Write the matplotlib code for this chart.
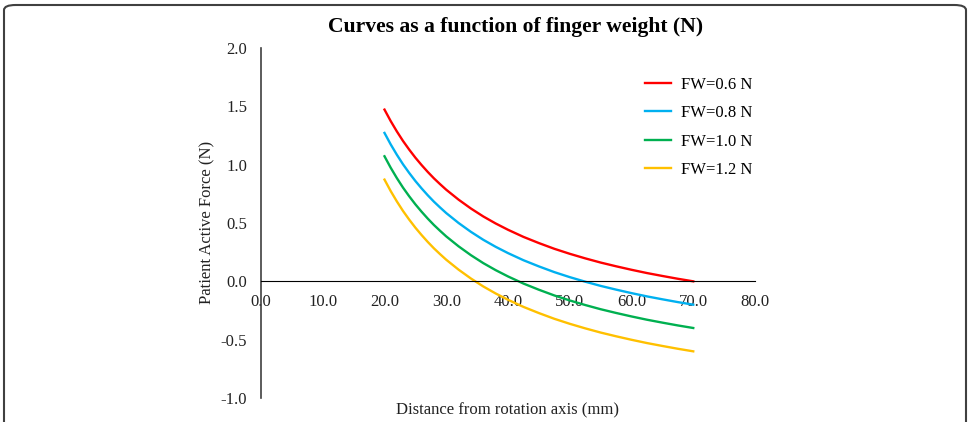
import matplotlib
matplotlib.use('Agg')
import matplotlib.pyplot as plt
from matplotlib.patches import FancyBboxPatch

plt.rcParams['font.family'] = ['Liberation Serif', 'DejaVu Serif']

# distance from rotation axis (mm)
distance = [20, 21, 22, 23, 24, 25, 26, 27, 28, 29, 30, 32, 34, 36, 38, 40,
            42.5, 45, 47.5, 50, 52.5, 55, 57.5, 60, 62.5, 65, 67.5, 70]

# patient active force (N)
fw_06 = [1.472, 1.374, 1.285, 1.203, 1.129, 1.060, 0.997, 0.938, 0.883, 0.833,
         0.785, 0.700, 0.624, 0.556, 0.496, 0.442, 0.381, 0.328, 0.279, 0.236,
         0.197, 0.161, 0.129, 0.099, 0.071, 0.046, 0.022, 0.000]
fw_08 = [1.272, 1.174, 1.085, 1.003, 0.929, 0.860, 0.797, 0.738, 0.683, 0.633,
         0.585, 0.500, 0.424, 0.356, 0.296, 0.242, 0.181, 0.128, 0.079, 0.036,
         -0.003, -0.039, -0.071, -0.101, -0.129, -0.154, -0.178, -0.200]
fw_10 = [1.072, 0.974, 0.885, 0.803, 0.729, 0.660, 0.597, 0.538, 0.483, 0.433,
         0.385, 0.300, 0.224, 0.156, 0.096, 0.042, -0.019, -0.072, -0.121, -0.164,
         -0.203, -0.239, -0.271, -0.301, -0.329, -0.354, -0.378, -0.400]
fw_12 = [0.872, 0.774, 0.685, 0.603, 0.529, 0.460, 0.397, 0.338, 0.283, 0.233,
         0.185, 0.100, 0.024, -0.044, -0.104, -0.158, -0.219, -0.272, -0.321, -0.364,
         -0.403, -0.439, -0.471, -0.501, -0.529, -0.554, -0.578, -0.600]

labels = ['FW=0.6 N', 'FW=0.8 N', 'FW=1.0 N', 'FW=1.2 N']
colors = ['#FF0000', '#00B0F0', '#00B050', '#FFC000']

W, H = 971, 422
fig = plt.figure(figsize=(W / 100, H / 100), dpi=100)

# rounded frame around the chart
frame = FancyBboxPatch((4 / W, -20 / H), 962 / W, 437 / H,
                       boxstyle='round,pad=0,rounding_size=0.012',
                       transform=fig.transFigure, fill=False,
                       edgecolor='#404040', linewidth=1.5)
fig.patches.append(frame)

ax = fig.add_axes([261 / W, (H - 398) / H, (755 - 261) / W, (398 - 48) / H])

for ys, lab, c in zip([fw_06, fw_08, fw_10, fw_12], labels, colors):
    ax.plot(distance, ys, color=c, linewidth=1.7, label=lab,
            solid_joinstyle='round')

ax.set_xlim(0, 80)
ax.set_ylim(-1.0, 2.0)
ax.set_xticks(range(0, 81, 10))
ax.set_xticklabels([f'{v:.1f}' for v in range(0, 81, 10)])
ax.set_yticks([-1.0, -0.5, 0.0, 0.5, 1.0, 1.5, 2.0])
ax.set_yticklabels([f'{v:.1f}' for v in [-1.0, -0.5, 0.0, 0.5, 1.0, 1.5, 2.0]])

ax.spines['top'].set_visible(False)
ax.spines['right'].set_visible(False)
ax.spines['bottom'].set_position(('data', 0))
ax.spines['bottom'].set_color('black')
ax.spines['left'].set_color('#404040')
ax.spines['left'].set_linewidth(1.2)
ax.tick_params(length=0, labelsize=12, colors='#222222')
ax.tick_params(axis='x', pad=9)
ax.tick_params(axis='y', pad=10)

fig.text(516 / W, 1 - 27 / H, 'Curves as a function of finger weight (N)',
         ha='center', va='center', fontsize=15.6, fontweight='bold')
fig.text(508 / W, 1 - 410 / H, 'Distance from rotation axis (mm)',
         ha='center', va='center', fontsize=12, color='#222222')
fig.text(207 / W, 1 - 222 / H, 'Patient Active Force (N)', rotation=90,
         ha='center', va='center', fontsize=12, color='#222222')

fig.legend(loc='upper left', bbox_to_anchor=(645 / W, 1 - 77 / H),
           frameon=False, fontsize=12, handlelength=1.55, handletextpad=0.6,
           labelspacing=0.74, borderpad=0, borderaxespad=0)

fig.savefig('out.png', dpi=100)
